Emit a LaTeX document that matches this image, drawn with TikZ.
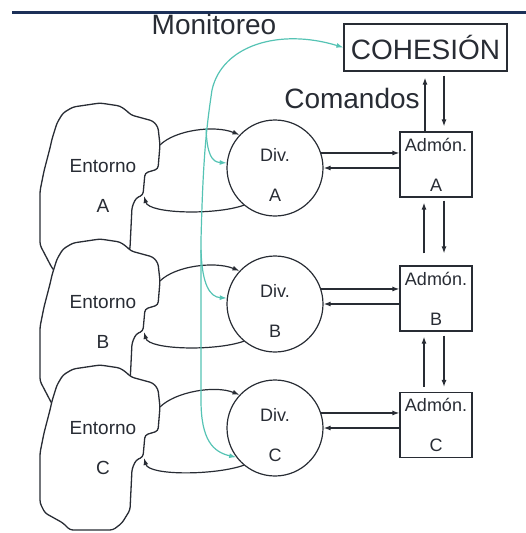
\documentclass[tikz,border=0pt]{standalone}
\usepackage{fontspec}
\setmainfont{Liberation Sans}
\usepackage{tikz}
\usetikzlibrary{arrows.meta,calc}
\definecolor{ink}{RGB}{40,44,52}
\definecolor{navy}{RGB}{28,48,88}
\definecolor{monit}{RGB}{85,195,180}
% #1 = lower part of the cloud (hidden behind the next one, or visible for the last one)
\newcommand{\cloudpath}[1]{(52,36) -- (57,20) -- (63,10) -- (73,4) -- (100,0) -- (120,3) -- (127,8) -- (131,12) -- (153,18) -- (158,24) -- (160,42) -- (158,66) -- (145,70) -- (143,92) -- (136,95) -- (132,104) -- (130,145) #1 -- (40,88) -- (44,68) -- (50,45) -- cycle}
\newcommand{\hiddenbottom}{-- (125,168) -- (60,174) -- (52,165) -- (40,142)}
\newcommand{\openbottom}{-- (122,158) -- (113,165) -- (70,165) -- (63,158) -- (45,148) -- (40,138)}

\begin{document}
\begin{tikzpicture}[->,>={Latex[length=7pt,width=5pt]},x=1pt,y=-1pt,line width=1.2pt,color=ink]
  \tikzstyle{big}=[font=\fontsize{28}{30}\selectfont,inner sep=0pt]
  \tikzstyle{lbl}=[font=\fontsize{18}{40}\selectfont,align=center,inner sep=0pt]
  \tikzstyle{div}=[circle,draw,minimum size=96pt,inner sep=0pt]
  \tikzstyle{adm}=[rectangle,draw,minimum width=72pt,minimum height=65pt,inner sep=0pt,lbl]
  \tikzstyle{cloud}=[-,draw,fill=white,rounded corners=3pt,line width=1.3pt]
  \tikzstyle{mon}=[monit,line width=1.2pt]
  \useasboundingbox (0,0) rectangle (526,533);
  \draw[-,navy,line width=3pt] (12,12) -- (526,12);

  % entornos
  \begin{scope}[shift={(0,103)}]
    \draw[cloud] \cloudpath{\hiddenbottom};
    \node[lbl,font=\fontsize{19}{40}\selectfont] (entA) at (103,83) {Entorno\\A};
    \coordinate (entAout) at (160,42);
    \coordinate (entAin) at (144,93);
  \end{scope}
  \begin{scope}[shift={(0,239)}]
    \draw[cloud] \cloudpath{\hiddenbottom};
    \node[lbl,font=\fontsize{19}{40}\selectfont] (entB) at (103,83) {Entorno\\B};
    \coordinate (entBout) at (160,42);
    \coordinate (entBin) at (144,93);
  \end{scope}
  \begin{scope}[shift={(0,365)}]
    \draw[cloud] \cloudpath{\openbottom};
    \node[lbl,font=\fontsize{19}{40}\selectfont] (entC) at (103,83) {Entorno\\C};
    \coordinate (entCout) at (160,42);
    \coordinate (entCin) at (144,93);
  \end{scope}

  % divisiones y administraciones
  \node[div] (divA) at (275,168) {};
  \node[div] (divB) at (275,304) {};
  \node[div] (divC) at (275,428) {};
  \node[lbl] (divAl) at ([yshift=-7pt]divA.center) {Div.\\A};
  \node[lbl] (divBl) at ([yshift=-7pt]divB.center) {Div.\\B};
  \node[lbl] (divCl) at ([yshift=-7pt]divC.center) {Div.\\C};
  \node[adm] (admA) at (436,164.5) {Admón.\\A};
  \node[adm] (admB) at (436,298.5) {Admón.\\B};
  \node[adm] (admC) at (436,425) {Admón.\\C};
  \node[big,draw,minimum width=163pt,minimum height=47pt] (coh) at (425.5,47.5) {COHESIÓN};
  \node[big] (monl) at (214,24) {Monitoreo};
  \node[big] (cmd) at (352,98) {Comandos};

  % entorno <-> division
  \draw (entAout) .. controls +(15,-15) and +(-25,-10) .. (divA.137);
  \draw (divA.230) .. controls +(-28,10) and +(5,18) .. (entAin);
  \draw (entBout) .. controls +(15,-15) and +(-25,-10) .. (divB.137);
  \draw (divB.230) .. controls +(-28,10) and +(5,18) .. (entBin);
  \draw (entCout) .. controls +(15,-15) and +(-25,-10) .. (divC.137);
  \draw (divC.230) .. controls +(-28,10) and +(5,18) .. (entCin);

  % division <-> admon
  \draw (divA.18) -- (divA.18 -| admA.west);
  \draw (admA.west |- divA.center) -- (divA.east);
  \draw (divB.18) -- (divB.18 -| admB.west);
  \draw (admB.west |- divB.center) -- (divB.east);
  \draw (divC.18) -- (divC.18 -| admC.west);
  \draw (admC.west |- divC.center) -- (divC.east);

  % comandos
  \draw[shorten >=6pt] ([xshift=-11pt]admA.north) -- ([xshift=-11pt]admA.north |- coh.south);
  \draw[shorten <=4pt,shorten >=5pt] ([xshift=8pt]admA.north |- coh.south) -- ([xshift=8pt]admA.north);
  \draw[shorten <=12pt,shorten >=5pt] ([xshift=-12pt]admB.north) -- ([xshift=-12pt]admA.south);
  \draw[shorten <=3pt,shorten >=12pt] ([xshift=8pt]admA.south) -- ([xshift=8pt]admB.north);
  \draw[shorten <=5pt,shorten >=5pt] ([xshift=-12pt]admC.north) -- ([xshift=-12pt]admB.south);
  \draw[shorten <=4pt,shorten >=5pt] ([xshift=8pt]admB.south) -- ([xshift=8pt]admC.north);

  % monitoreo
  \draw[mon,<->] (divC.217) .. controls (213,452) and (201,440) .. (201,400) -- (201,240)
    .. controls (203,160) and (206,130) .. (212,90) .. controls (222,45) and (280,28) .. (coh.west);
  \coordinate (monA) at (206,128);
  \coordinate (monB) at (201,250);
  \draw[mon] (monA) .. controls (207,155) and (212,162) .. (divA.174);
  \draw[mon] (monB) .. controls (202,285) and (210,297) .. (divB.173);
\end{tikzpicture}
\end{document}
